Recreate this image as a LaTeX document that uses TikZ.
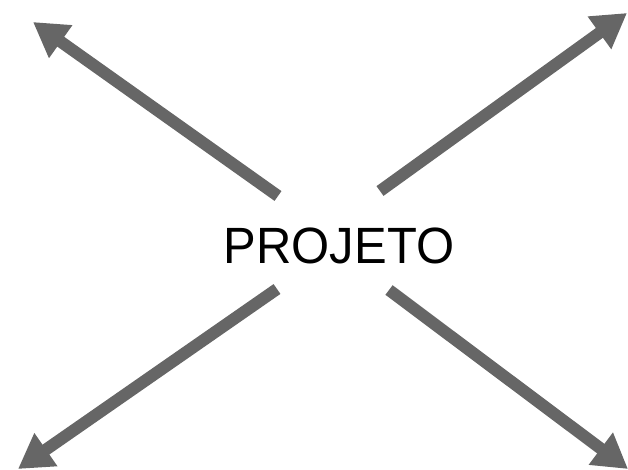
\documentclass[tikz,border=0pt]{standalone}
\usepackage{fontspec}
\setmainfont{Liberation Sans}
\usetikzlibrary{arrows.meta}
\definecolor{arrowgray}{HTML}{666666}
\tikzset{
  bigarrow/.style={draw=arrowgray, line width=12pt, -{Triangle[length=34pt,width=38pt]}},
  title/.style={inner sep=0pt, font=\fontsize{51}{60}\selectfont, xscale=0.96}
}
\begin{document}
\begin{tikzpicture}[x=1pt,y=-1pt]
\useasboundingbox (0,0) rectangle (628,469);
\node[title] (p) at (339,246) {PROJETO};
\coordinate (tlA) at (278,196);
\coordinate (tlB) at (33,22);
\coordinate (trA) at (380,191);
\coordinate (trB) at (627,13);
\coordinate (blA) at (277,289);
\coordinate (blB) at (18,469);
\coordinate (brA) at (389,290);
\coordinate (brB) at (628,469);
\draw[bigarrow] (tlA) -- (tlB);
\draw[bigarrow] (trA) -- (trB);
\draw[bigarrow] (blA) -- (blB);
\draw[bigarrow] (brA) -- (brB);
\end{tikzpicture}
\end{document}
